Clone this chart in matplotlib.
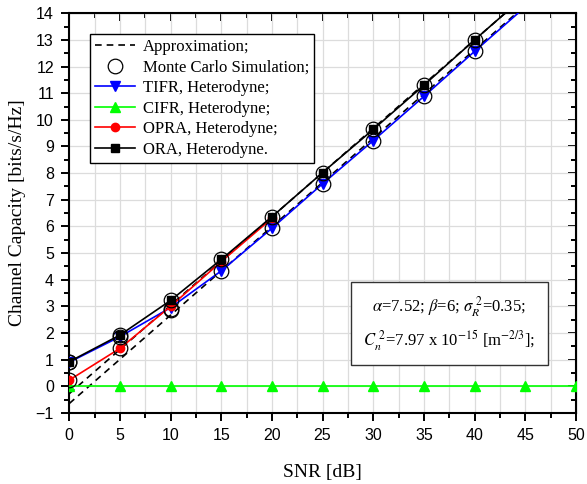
import matplotlib
matplotlib.use('Agg')
import matplotlib.pyplot as plt
from matplotlib.ticker import MultipleLocator

plt.rcParams['font.serif'] = ['Liberation Serif', 'DejaVu Serif']
plt.rcParams['font.sans-serif'] = ['Liberation Sans', 'DejaVu Sans']
plt.rcParams['mathtext.fontset'] = 'stix'

# values
snr = [0, 5, 10, 15, 20, 25, 30, 35, 40, 45]
ora = [0.92, 1.92, 3.22, 4.76, 6.36, 8.02, 9.64, 11.30, 13.00, 14.66]
tifr = [0.90, 1.86, 2.95, 4.33, 5.93, 7.60, 9.22, 10.88, 12.57, 14.24]
opra_snr = [0, 5, 10, 15, 20]
opra = [0.23, 1.42, 3.00, 4.68, 6.30]
cifr_snr = [0, 5, 10, 15, 20, 25, 30, 35, 40, 45, 50]
cifr = [0, 0, 0, 0, 0, 0, 0, 0, 0, 0, 0]
approx_ora = [-0.28, 1.38, 3.04, 4.70, 6.36, 8.02, 9.68, 11.34, 13.00, 14.66]
approx_tifr = [-0.65, 1.01, 2.67, 4.33, 5.99, 7.65, 9.31, 10.97, 12.63, 14.29]
mc_snr = [0, 5, 10, 15, 20, 25, 30, 35, 40]
mc_ora = [0.92, 1.92, 3.22, 4.76, 6.36, 8.02, 9.64, 11.30, 13.00]
mc_tifr = [0.90, 1.86, 2.85, 4.33, 5.93, 7.60, 9.22, 10.88, 12.57]
mc_opra_snr = [0, 5, 10]
mc_opra = [0.23, 1.42, 2.90]

fig = plt.figure(figsize=(5.87, 4.84), dpi=100)
ax = fig.add_axes([0.118, 0.147, 0.863, 0.8255])

lw = 1.2
dash = (0, (4, 3))
ax.plot(snr, approx_ora, ls=dash, color='black', lw=lw, label='Approximation;', zorder=2)
ax.plot(snr, approx_tifr, ls=dash, color='black', lw=lw, zorder=2)
ax.plot(mc_snr, mc_ora, 'o', mfc='none', mec='black', ms=10.5, mew=0.9,
        label='Monte Carlo Simulation;', zorder=5)
ax.plot(mc_snr, mc_tifr, 'o', mfc='none', mec='black', ms=10.5, mew=0.9, zorder=5)
ax.plot(mc_opra_snr, mc_opra, 'o', mfc='none', mec='black', ms=10.5, mew=0.9, zorder=5)
ax.plot(snr, tifr, '-v', color='blue', lw=lw, ms=6.5, label='TIFR, Heterodyne;', zorder=3)
ax.plot(cifr_snr, cifr, '-^', color='#00ff00', lw=lw, ms=6.5, label='CIFR, Heterodyne;', zorder=3)
ax.plot(opra_snr, opra, '-o', color='red', lw=lw, ms=6, label='OPRA, Heterodyne;', zorder=3)
ax.plot(snr, ora, '-s', color='black', lw=lw, ms=5.5, label='ORA, Heterodyne.', zorder=4)

ax.set_xlim(0, 50)
ax.set_ylim(-1, 14)
ax.xaxis.set_major_locator(MultipleLocator(5))
ax.xaxis.set_minor_locator(MultipleLocator(2.5))
ax.yaxis.set_major_locator(MultipleLocator(1))
ax.yaxis.set_minor_locator(MultipleLocator(0.5))
ax.grid(True, which='major', color='#dcdcdc', lw=0.9)
ax.grid(True, which='minor', axis='x', color='#dcdcdc', lw=0.9)
ax.set_axisbelow(True)

ax.tick_params(which='major', direction='out', length=6, width=1.4, labelsize=11.5, pad=5)
ax.tick_params(which='minor', direction='out', length=3.5, width=1.4)
for s in ax.spines.values():
    s.set_linewidth(1.5)

top = ax.secondary_xaxis('top')
top.xaxis.set_major_locator(MultipleLocator(5))
top.xaxis.set_minor_locator(MultipleLocator(2.5))
top.tick_params(which='major', direction='in', length=6, width=1.4, labeltop=False)
top.tick_params(which='minor', direction='in', length=3.5, width=1.4)
right = ax.secondary_yaxis('right')
right.yaxis.set_major_locator(MultipleLocator(1))
right.yaxis.set_minor_locator(MultipleLocator(0.5))
right.tick_params(which='major', direction='in', length=6, width=1.4, labelright=False)
right.tick_params(which='minor', direction='in', length=3.5, width=1.4)

ax.set_xlabel('SNR [dB]', family='serif', fontsize=14, labelpad=15)
ax.set_ylabel('Channel Capacity [bits/s/Hz]', family='serif', fontsize=14, labelpad=7)

leg = ax.legend(loc='upper left', bbox_to_anchor=(0.04, 0.948), borderaxespad=0,
                prop={'family': 'serif', 'size': 12}, fancybox=False,
                edgecolor='black', framealpha=1, handlelength=2.4,
                labelspacing=0.27, handletextpad=0.5, borderpad=0.3)
leg.get_frame().set_linewidth(1.0)

txt = ('$\\alpha$=7.52; $\\beta$=6; $\\sigma_R^{\\ 2}$=0.35;\n'
       '$C_n^{\\ 2}$=7.97 x 10$^{-15}$ [m$^{-2/3}$];')
ax.text(0.75, 0.223, txt, transform=ax.transAxes, ha='center', va='center',
        family='serif', fontsize=12, linespacing=1.5,
        bbox=dict(boxstyle='square,pad=0.75', fc='white', ec='#333333', lw=1.0))

fig.savefig('out.png', dpi=100)
